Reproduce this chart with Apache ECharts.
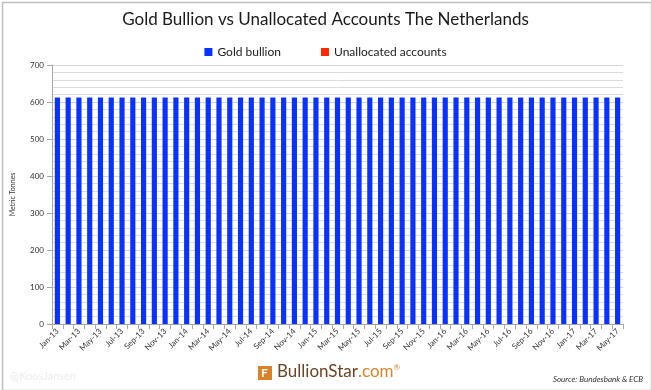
<!DOCTYPE html>
<html><head><meta charset="utf-8">
<script src="https://cdn.jsdelivr.net/npm/echarts@6/dist/echarts.min.js"></script>
<style>html,body{margin:0;padding:0;background:#fff}#c{width:651px;height:390px}</style>
</head><body><div id="c"></div>
<script>
const categories = ["Jan-13","Feb-13","Mar-13","Apr-13","May-13","Jun-13","Jul-13","Aug-13","Sep-13","Oct-13","Nov-13","Dec-13",
"Jan-14","Feb-14","Mar-14","Apr-14","May-14","Jun-14","Jul-14","Aug-14","Sep-14","Oct-14","Nov-14","Dec-14",
"Jan-15","Feb-15","Mar-15","Apr-15","May-15","Jun-15","Jul-15","Aug-15","Sep-15","Oct-15","Nov-15","Dec-15",
"Jan-16","Feb-16","Mar-16","Apr-16","May-16","Jun-16","Jul-16","Aug-16","Sep-16","Oct-16","Nov-16","Dec-16",
"Jan-17","Feb-17","Mar-17","Apr-17","May-17"];
const goldBullion = [612.5,612.5,612.5,612.5,612.5,612.5,612.5,612.5,612.5,612.5,612.5,612.5,
612.5,612.5,612.5,612.5,612.5,612.5,612.5,612.5,612.5,612.5,612.5,612.5,
612.5,612.5,612.5,612.5,612.5,612.5,612.5,612.5,612.5,612.5,612.5,612.5,
612.5,612.5,612.5,612.5,612.5,612.5,612.5,612.5,612.5,612.5,612.5,612.5,
612.5,612.5,612.5,612.5,612.5];
const unallocatedAccounts = [0,0,0,0,0,0,0,0,0,0,0,0,
0,0,0,0,0,0,0,0,0,0,0,0,
0,0,0,0,0,0,0,0,0,0,0,0,
0,0,0,0,0,0,0,0,0,0,0,0,
0,0,0,0,0];
const yTicks = [0,100,200,300,400,500,600,700];

const chart = echarts.init(document.getElementById('c'));
const font = "Lato, 'Open Sans', sans-serif";
chart.setOption({
  animation:false,
  textStyle:{fontFamily:font},
  title:{text:'Gold Bullion vs Unallocated Accounts The Netherlands',left:'center',top:6,
    textStyle:{fontFamily:font,fontSize:17,fontWeight:'normal',color:'#1a1a1a'}},
  legend:{top:41,left:'center',itemWidth:8,itemHeight:8,itemGap:40,icon:'rect',
    textStyle:{fontFamily:font,fontSize:12,color:'#222'},
    data:['Gold bullion','Unallocated accounts']},
  grid:{left:52,right:28,top:65,bottom:66},
  xAxis:{type:'category',data:categories,
    axisLine:{lineStyle:{color:'#a6a6a6'}},
    axisTick:{show:true,interval:0,lineStyle:{color:'#a6a6a6'}},
    axisLabel:{interval:1,rotate:45,fontSize:8,color:'#333',fontFamily:font,margin:6}},
  yAxis:{type:'value',min:yTicks[0],max:yTicks[yTicks.length-1],interval:100,
    name:'Metric Tonnes',nameLocation:'middle',nameGap:36,nameRotate:90,
    nameTextStyle:{fontSize:7,color:'#333',fontFamily:font},
    axisLine:{show:true,lineStyle:{color:'#a6a6a6'}},
    axisTick:{show:true,lineStyle:{color:'#a6a6a6'}},
    axisLabel:{fontSize:8,color:'#333',fontFamily:font},
    splitLine:{lineStyle:{color:'#d4d4d4'}},
    minorTick:{show:false,splitNumber:5},
    minorSplitLine:{show:true,lineStyle:{color:'#dcdcdc'}}},
  series:[
    {name:'Gold bullion',type:'bar',stack:'a',data:goldBullion,barCategoryGap:'52%',
     itemStyle:{color:'#0a32ff'}},
    {name:'Unallocated accounts',type:'bar',stack:'a',data:unallocatedAccounts,
     itemStyle:{color:'#ff2a00'}}
  ],
  graphic:[
    {type:'rect',left:0,top:0,shape:{x:0.5,y:0.5,width:649,height:388},
     style:{fill:'none',stroke:'#bfbfbf',lineWidth:1.5}},
    {type:'text',left:10,top:371,style:{text:'@KoosJansen',fontSize:11,fill:'#ececec',fontFamily:font}},
    {type:'rect',shape:{x:258,y:366,width:14,height:14},style:{fill:'#d9822b'}},
    {type:'text',x:261,y:367,style:{text:'F',fontSize:12,fontWeight:'bold',fill:'#fff',fontFamily:font}},
    {type:'text',x:277,y:363,style:{rich:{a:{fontSize:17,fill:'#6b4423',fontFamily:font},b:{fontSize:17,fill:'#d9822b',fontFamily:font},c:{fontSize:8,fill:'#d9822b',fontFamily:font,verticalAlign:'top'}},text:'{a|BullionStar}{b|.com}{c|®}'}},
    {type:'text',right:8,top:375,style:{text:'Source: Bundesbank & ECB',fontSize:8,fontStyle:'italic',fill:'#333',fontFamily:font}}
  ]
});
</script></body></html>
